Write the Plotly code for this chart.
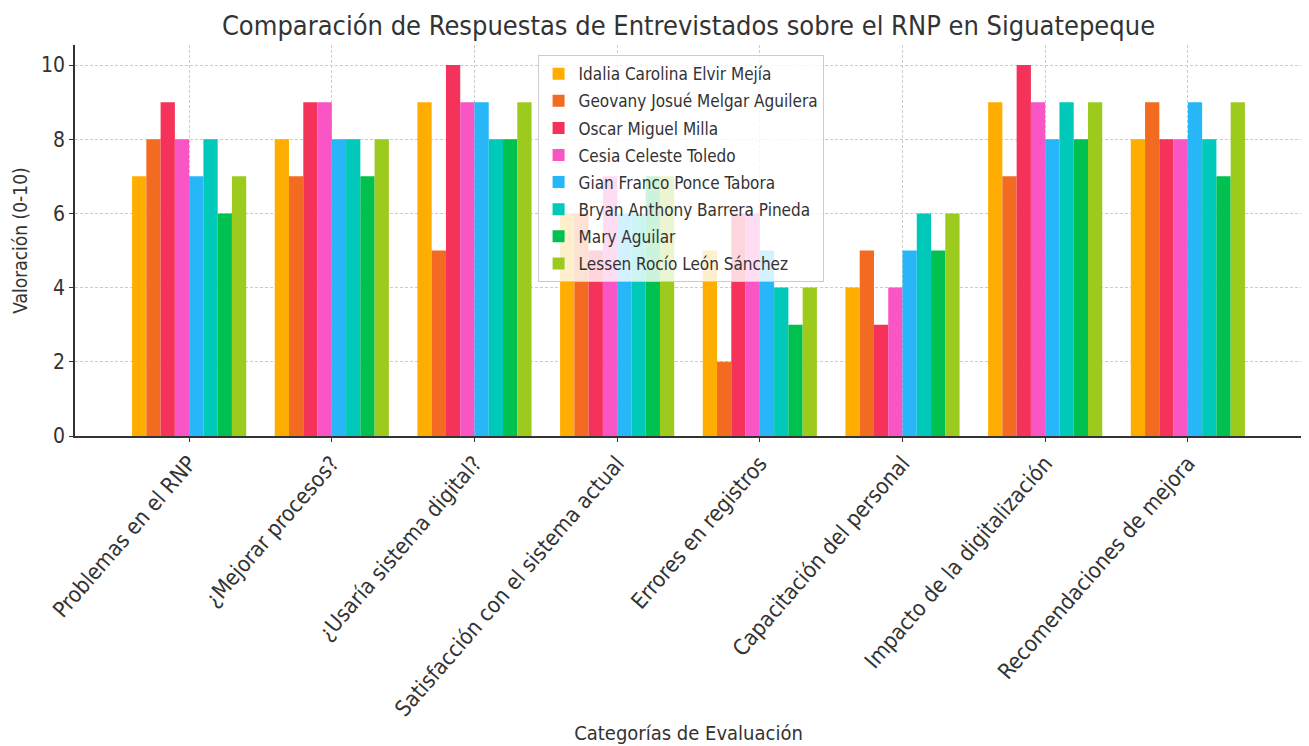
import plotly.graph_objects as go

categories = ["Problemas en el RNP", "¿Mejorar procesos?", "¿Usaría sistema digital?",
              "Satisfacción con el sistema actual", "Errores en registros",
              "Capacitación del personal", "Impacto de la digitalización",
              "Recomendaciones de mejora"]

names = ["Idalia Carolina Elvir Mejía", "Geovany Josué Melgar Aguilera", "Oscar Miguel Milla",
         "Cesia Celeste Toledo", "Gian Franco Ponce Tabora", "Bryan Anthony Barrera Pineda",
         "Mary Aguilar", "Lessen Rocío León Sánchez"]

idalia = [7, 8, 9, 6, 5, 4, 9, 8]
geovany = [8, 7, 5, 6, 2, 5, 7, 9]
oscar = [9, 9, 10, 5, 6, 3, 10, 8]
cesia = [8, 9, 9, 7, 6, 4, 9, 8]
gian = [7, 8, 9, 6, 5, 5, 8, 9]
bryan = [8, 8, 8, 6, 4, 6, 9, 8]
mary = [6, 7, 8, 7, 3, 5, 8, 7]
lessen = [7, 8, 9, 7, 4, 6, 9, 9]

series = [idalia, geovany, oscar, cesia, gian, bryan, mary, lessen]
colors = ["#FFAD00", "#F26B21", "#F5325A", "#FA55C4", "#27B7F8", "#00C9BA", "#00C050", "#9CCB1E"]

fig = go.Figure()
for i, (n, s, c) in enumerate(zip(names, series, colors)):
    fig.add_trace(go.Bar(name=n, x=categories, y=s, legendgroup=f"g{i}",
                         marker=dict(color=c, line=dict(width=0))))

font_family = "DejaVu Sans Condensed, DejaVu Sans"
txt = "#333333"
fig.update_layout(
    width=1309, height=746,
    barmode="group", bargap=0.2, bargroupgap=0,
    paper_bgcolor="white", plot_bgcolor="white",
    font=dict(family=font_family, color=txt),
    margin=dict(l=57, r=15, t=37, b=318),
    title=dict(text="Comparación de Respuestas de Entrevistados sobre el RNP en Siguatepeque",
               x=0.5, xref="paper", xanchor="center", y=0.977, yanchor="middle",
               font=dict(size=27, color=txt, family=font_family)),
    legend=dict(x=0.377, y=0.974, xanchor="left", yanchor="top",
                bgcolor="rgba(255,255,255,0.8)", bordercolor="#cccccc", borderwidth=1,
                font=dict(size=17, color=txt, family=font_family),
                tracegroupgap=2),
    xaxis=dict(
        range=[-0.8, 7.8], tickangle=-49, tickfont=dict(size=22, color=txt),
        showgrid=True, gridcolor="#cccccc", griddash="3px,2px", gridwidth=1,
        showline=True, linecolor="#333333", linewidth=1.5,
        ticks="outside", ticklen=4, tickcolor="#333333",
        title=dict(text="Categorías de Evaluación", font=dict(size=20, color=txt), standoff=5),
    ),
    yaxis=dict(
        range=[0, 10.54], tickvals=[0, 2, 4, 6, 8, 10], tickfont=dict(size=21, color=txt),
        showgrid=True, gridcolor="#cccccc", griddash="3px,2px", gridwidth=1,
        showline=True, linecolor="#333333", linewidth=1.5,
        ticks="outside", ticklen=4, tickcolor="#333333", zeroline=False,
        title=dict(text="Valoración (0-10)", font=dict(size=19, color=txt), standoff=8),
    ),
)

fig.write_html("out.html")
